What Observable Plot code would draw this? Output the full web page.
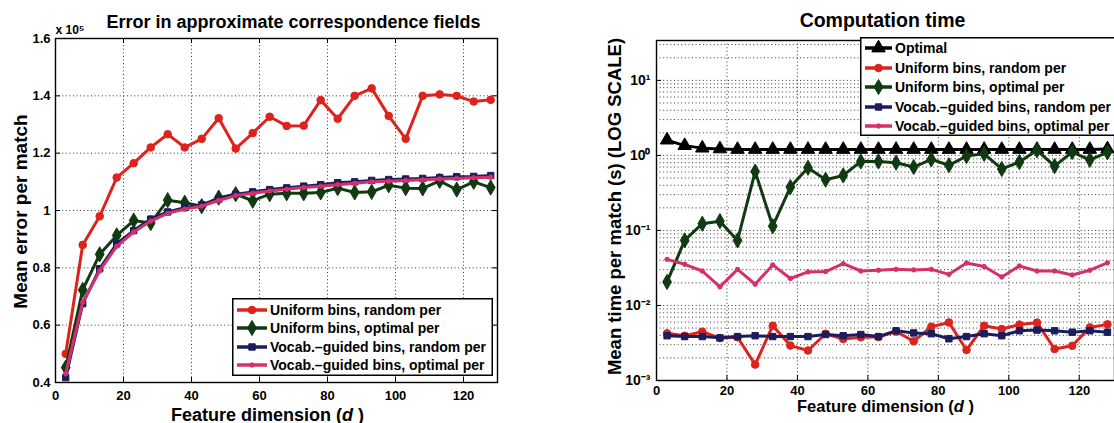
<!DOCTYPE html>
<html><head><meta charset="utf-8">
<script src="https://cdn.jsdelivr.net/npm/d3@7"></script>
<script src="https://cdn.jsdelivr.net/npm/@observablehq/plot@0.6"></script>
<style>
html,body{margin:0;padding:0;background:#fff;overflow:hidden;}
#wrap{position:relative;width:1114px;height:423px;display:flex;overflow:hidden;}
#wrap svg{display:block;}
.legend{position:absolute;overflow:visible;}
</style></head><body><div id="wrap"></div>
<script>
// ---------- DATA ----------
const dims = [3,8,13,18,23,28,33,38,43,48,53,58,63,68,73,78,83,88,93,98,103,108,113,118,123,128];

// Left chart: mean error per match (x 10^5)
const errUniformRandom  = [0.50,0.88,0.98,1.115,1.165,1.22,1.266,1.22,1.25,1.322,1.216,1.27,1.327,1.295,1.296,1.385,1.32,1.40,1.426,1.33,1.25,1.40,1.405,1.40,1.38,1.386];
const errUniformOptimal = [0.452,0.723,0.847,0.913,0.965,0.956,1.036,1.027,1.015,1.045,1.057,1.034,1.057,1.06,1.06,1.063,1.078,1.063,1.065,1.088,1.078,1.077,1.103,1.073,1.10,1.08];
const errVocabRandom    = [0.417,0.675,0.797,0.884,0.93,0.97,0.995,1.01,1.02,1.04,1.057,1.065,1.073,1.079,1.085,1.09,1.097,1.10,1.105,1.108,1.11,1.112,1.115,1.118,1.119,1.122];
const errVocabOptimal   = [0.43,0.68,0.79,0.875,0.925,0.963,0.99,1.005,1.015,1.035,1.052,1.06,1.068,1.074,1.08,1.085,1.09,1.095,1.10,1.102,1.105,1.107,1.11,1.112,1.114,1.116];

// Right chart: mean time per match (s)
const timeOptimal        = [1.6,1.35,1.25,1.22,1.2,1.2,1.2,1.2,1.2,1.2,1.2,1.2,1.2,1.2,1.2,1.2,1.2,1.2,1.2,1.2,1.2,1.2,1.2,1.2,1.2,1.22];
const timeUniformRandom  = [0.00425,0.00395,0.00447,0.00368,0.00377,0.00163,0.00537,0.00292,0.00251,0.0042,0.00357,0.00377,0.0038,0.0045,0.00333,0.0052,0.00594,0.00255,0.00537,0.00485,0.00556,0.0059,0.00263,0.0029,0.0051,0.0056];
const timeUniformOptimal = [0.0206,0.0736,0.123,0.133,0.0736,0.61,0.114,0.378,0.685,0.474,0.541,0.83,0.83,0.8,0.70,0.885,0.74,0.98,1.05,0.66,0.815,1.17,0.72,1.11,0.875,1.1];
const timeVocabRandom    = [0.00395,0.00385,0.00385,0.0037,0.00385,0.00395,0.00385,0.00385,0.00385,0.0041,0.00395,0.0041,0.00385,0.0046,0.0043,0.0042,0.0036,0.00385,0.0042,0.00395,0.0046,0.0047,0.0046,0.0044,0.0046,0.0044];
const timeVocabOptimal   = [0.0412,0.0354,0.0288,0.0177,0.0303,0.0192,0.0347,0.0229,0.028,0.0283,0.0361,0.0288,0.0295,0.0303,0.0298,0.0303,0.026,0.0368,0.033,0.024,0.0336,0.0288,0.0288,0.0255,0.0295,0.037];

// Ticks / labels
const xTicks = [0,20,40,60,80,100,120];
const xGrid = [20,40,60,80,100,120];
const errTicks = [0.4,0.6,0.8,1,1.2,1.4,1.6];
const errGrid = [0.6,0.8,1,1.2,1.4];
const timeTicks = [0.001,0.01,0.1,1,10];
const timeTickLabels = ["10⁻³","10⁻²","10⁻¹","10⁰","10¹"];
const timeGrid = [0.002,0.003,0.004,0.005,0.006,0.007,0.008,0.009,0.01,0.02,0.03,0.04,0.05,0.06,0.07,0.08,0.09,0.1,0.2,0.3,0.4,0.5,0.6,0.7,0.8,0.9,1,2,3,4,5,6,7,8,9,10,20,30];

const seriesNames = ["Optimal","Uniform bins, random per","Uniform bins, optimal per","Vocab.–guided bins, random per","Vocab.–guided bins, optimal per"];
const seriesColors = ["#000000","#dd231c","#0f3a12","#1b1d5c","#d4306c"];
const seriesSymbols = ["triangle","circle","diamond","square","circle"];
const seriesR = [5,3.8,4.6,3.6,2.2];

const leftTitle = "Error in approximate correspondence fields";
const rightTitle = "Computation time";
const XLABEL = "Feature dimension (d )";
const leftYLabel = "Mean error per match";
const rightYLabel = "Mean time per match (s) (LOG SCALE)";
const sciLabel = "x 10⁵";

// ---------- BUILD ----------
const FONT = '"Liberation Sans", Arial, Helvetica, sans-serif';
function rows(vals, si){ return vals.map((v,i)=>({d: dims[i], v, s: si})); }
const errSets = [null, errUniformRandom, errUniformOptimal, errVocabRandom, errVocabOptimal];
const timeSets = [timeOptimal, timeUniformRandom, timeUniformOptimal, timeVocabRandom, timeVocabOptimal];

function seriesMarks(sets){
  const m = [];
  sets.forEach((vals, si) => {
    if (!vals) return;
    const data = rows(vals, si);
    m.push(Plot.line(data, {x:"d", y:"v", stroke: seriesColors[si], strokeWidth: 3, strokeLinejoin:"round"}));
    m.push(Plot.dot(data, {x:"d", y:"v", symbol: seriesSymbols[si], r: seriesR[si], fill: seriesColors[si], stroke: seriesColors[si], strokeWidth: 1}));
  });
  return m;
}

const gridStyle = {stroke:"#000", strokeOpacity:0.8, strokeWidth:1, strokeDasharray:"1,2.6"};

// Left plot
const LW = 545, LH = 423, LML = 55, LMR = 48, LMT = 38, LMB = 41;
const lFW = LW - LML - LMR, lFH = LH - LMT - LMB;
const left = Plot.plot({
  width: LW, height: LH,
  marginLeft: LML, marginRight: LMR, marginTop: LMT, marginBottom: LMB,
  style: {fontFamily: FONT, fontWeight: "bold", fontSize: "13px", color: "#000", background: "#fff", overflow: "visible"},
  x: {domain: [0,130]},
  y: {domain: [0.4,1.6]},
  marks: [
    Plot.ruleX(xGrid, {x: d=>d, ...gridStyle}),
    Plot.ruleY(errGrid, {y: d=>d, ...gridStyle}),
    Plot.ruleX(xTicks, {x: d=>d, insetTop: lFH-5, stroke:"#000"}),
    Plot.ruleX(xTicks, {x: d=>d, insetBottom: lFH-5, stroke:"#000"}),
    Plot.ruleY(errTicks, {y: d=>d, insetRight: lFW-5, stroke:"#000"}),
    Plot.ruleY(errTicks, {y: d=>d, insetLeft: lFW-5, stroke:"#000"}),
    ...seriesMarks(errSets),
    Plot.frame({stroke:"#000", strokeWidth:1.4}),
    Plot.axisX({ticks: xTicks, tickSize: 0, tickPadding: 8, label: null, tickFormat: d=>String(d)}),
    Plot.axisY({ticks: errTicks, tickSize: 0, tickPadding: 5, label: null, tickFormat: d=>String(d)}),
    Plot.text([leftTitle], {text: d=>d, frameAnchor:"top", dx: 17, dy: -11, lineAnchor:"bottom", fontSize: 18, fontWeight:"bold"}),
    Plot.text([sciLabel], {text: d=>d, frameAnchor:"top-left", dx: 0, dy: -5, textAnchor:"start", lineAnchor:"bottom", fontSize: 12, fontWeight:"bold"}),
    Plot.text([XLABEL], {text: d=>d, frameAnchor:"bottom", dx: -9, dy: 38, lineAnchor:"bottom", fontSize: 18, fontWeight:"bold"}),
    Plot.text([leftYLabel], {text: d=>d, frameAnchor:"left", dx: -35, dy: 1, rotate: -90, textAnchor: "middle", lineAnchor: "middle", fontSize: 19, fontWeight:"bold"})
  ]
});

// Right plot
const RW = 1114 - LW, RH = 423, RML = 111, RMR = 0, RMT = 40, RMB = 43;
const rFW = RW - RML - RMR, rFH = RH - RMT - RMB;
const right = Plot.plot({
  width: RW, height: RH,
  marginLeft: RML, marginRight: RMR, marginTop: RMT, marginBottom: RMB,
  style: {fontFamily: FONT, fontWeight: "bold", fontSize: "13px", color: "#000", background: "#fff", overflow: "visible"},
  x: {domain: [0,130]},
  y: {type: "log", domain: [0.001, 34]},
  marks: [
    Plot.ruleX(xGrid, {x: d=>d, ...gridStyle}),
    Plot.ruleY(timeGrid, {y: d=>d, ...gridStyle}),
    Plot.ruleX(xTicks, {x: d=>d, insetTop: rFH-5, stroke:"#000"}),
    Plot.ruleY(timeTicks, {y: d=>d, insetRight: rFW-5, stroke:"#000"}),
    ...seriesMarks(timeSets),
    Plot.frame({stroke:"#000", strokeWidth:1.4}),
    Plot.axisX({ticks: xTicks, tickSize: 0, tickPadding: 5, label: null, tickFormat: d=>String(d)}),
    Plot.axisY({ticks: timeTicks, tickSize: 0, tickPadding: 6, label: null, fontSize: 14, tickFormat: (d,i)=>timeTickLabels[timeTicks.indexOf(d)]}),
    Plot.text([rightTitle], {text: d=>d, frameAnchor:"top", dx: -3, dy: -14, lineAnchor:"bottom", fontSize: 19.5, fontWeight:"bold"}),
    Plot.text([XLABEL], {text: d=>d, frameAnchor:"bottom", dx: 0, dy: 31, lineAnchor:"bottom", fontSize: 16.5, fontWeight:"bold"}),
    Plot.text([rightYLabel], {text: d=>d, frameAnchor:"left", dx: -41, dy: -4, rotate: -90, textAnchor: "middle", lineAnchor: "middle", fontSize: 18.5, fontWeight:"bold"})
  ]
});

const wrap = document.getElementById("wrap");
wrap.appendChild(left);
wrap.appendChild(right);

function italicD(svg){
  d3.select(svg).selectAll("text").filter(function(){ return this.textContent === XLABEL; }).each(function(){
    const t = d3.select(this);
    t.text(null);
    t.append("tspan").text("Feature dimension (");
    t.append("tspan").attr("font-style","italic").text("d");
    t.append("tspan").text(" )");
  });
}
italicD(left); italicD(right);

// Legends
function legend(x, y, w, h, idxs, rowYs, lineX0, lineX1, textX){
  const svg = d3.select(wrap).append("svg").attr("class","legend")
    .style("left", x+"px").style("top", y+"px")
    .attr("width", w).attr("height", h)
    .style("font-family", FONT).style("font-weight","bold").style("font-size","14px");
  svg.append("rect").attr("x",0.75).attr("y",0.75).attr("width",w-1.5).attr("height",h-1.5)
    .attr("fill","#fff").attr("stroke","#000").attr("stroke-width",1.5);
  idxs.forEach((si, k) => {
    const yy = rowYs[k];
    svg.append("line").attr("x1",lineX0).attr("x2",lineX1).attr("y1",yy).attr("y2",yy)
      .attr("stroke", seriesColors[si]).attr("stroke-width",3.5);
    const sym = {triangle: d3.symbolTriangle, circle: d3.symbolCircle, diamond: d3.symbolDiamond, square: d3.symbolSquare}[seriesSymbols[si]];
    svg.append("path").attr("transform",`translate(${(lineX0+lineX1)/2},${yy})`)
      .attr("d", d3.symbol(sym, Math.PI*seriesR[si]*seriesR[si])())
      .attr("fill", seriesColors[si]).attr("stroke", seriesColors[si]);
    svg.append("text").attr("x", textX).attr("y", yy).attr("dy","0.36em").attr("fill","#000").text(seriesNames[si]);
  });
}
legend(232, 298, 261, 78, [1,2,3,4], [12,30,49,67], 5, 35, 38);
legend(860, 37, 262, 99, [0,1,2,3,4], [11,31,50,70,89], 5, 32, 35);
</script></body></html>
